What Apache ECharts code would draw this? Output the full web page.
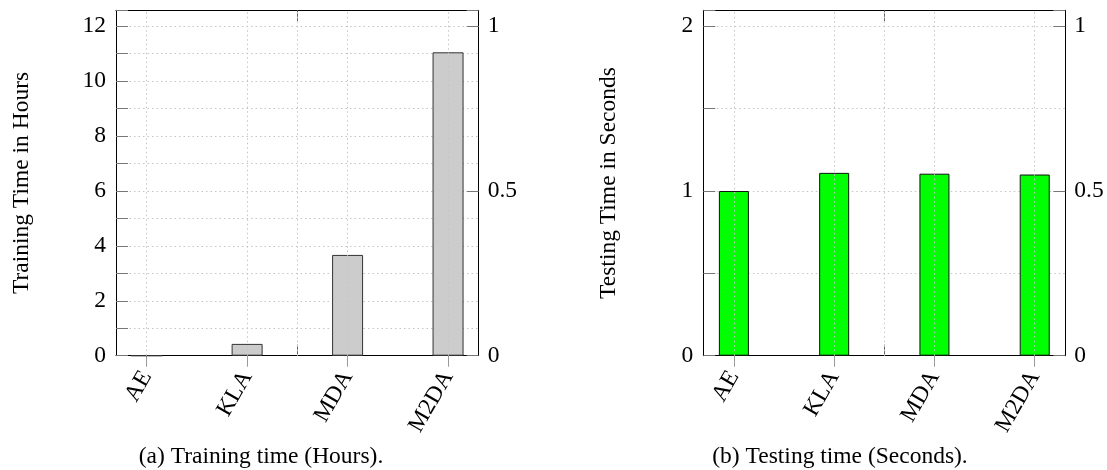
<!DOCTYPE html>
<html>
<head>
<meta charset="utf-8">
<script src="https://cdn.jsdelivr.net/npm/echarts@6/dist/echarts.min.js"></script>
<style>
html,body{margin:0;padding:0;background:#fff;}
#c{width:1107px;height:470px;}
</style>
</head>
<body>
<div id="c"></div>
<script>
// ---- data ----
const categories = ['AE', 'KLA', 'MDA', 'M2DA'];
const trainingHours = [0, 0.43, 3.67, 11.05];
const testingSeconds = [1.0, 1.11, 1.105, 1.10];
const trainingLeftMax = 12.58;
const testingLeftMax = 2.097;
const rightMaxRatio = 1.0483;
const verticalGridAt = [0, 1, 1.5, 2, 3];
const captionA = '(a) Training time (Hours).';
const captionB = '(b) Testing time (Seconds).';
const yNameA = 'Training Time in Hours';
const yNameB = 'Testing Time in Seconds';

const FONT = 'Liberation Serif';
const FS = 23.5;
const xMin = -0.305, xMax = 3.305;

function isInt(v){ return Math.abs(v - Math.round(v)) < 1e-9; }
function xAxesFor(g){
  return [
    { type:'value', gridIndex:g, position:'bottom', min:xMin, max:xMax,
      axisLine:{show:true, onZero:false, lineStyle:{color:'#000', width:1}},
      axisTick:{show:true, customValues:[0,1,2,3], inside:false, length:11, lineStyle:{color:'#999', width:1}},
      axisLabel:{show:true, customValues:[0,1,2,3], rotate:60, margin:17,
        formatter:function(v){ return isInt(v) ? categories[Math.round(v)] : ''; },
        fontFamily:FONT, fontSize:FS, color:'#000', padding:[0,0,0,0]},
      splitLine:{show:false} },
    { type:'value', gridIndex:g, position:'top', min:xMin, max:xMax,
      axisLine:{show:true, onZero:false, lineStyle:{color:'#000', width:1}},
      axisTick:{show:true, customValues:[1.5], inside:true, length:11, lineStyle:{color:'#666', width:1}},
      axisLabel:{show:false}, splitLine:{show:false} },
    { type:'value', gridIndex:g, position:'bottom', offset:0, min:xMin, max:xMax,
      axisLine:{show:false, onZero:false},
      axisTick:{show:true, customValues:[1.5], inside:true, length:11, lineStyle:{color:'#666', width:1}},
      axisLabel:{show:false}, splitLine:{show:false} }
  ];
}
function leftY(g, max, interval, labelFn, name){
  return { type:'value', gridIndex:g, position:'left', min:0, max:max, interval:interval,
    name:name, nameLocation:'middle', nameGap:82, nameRotate:90,
    nameTextStyle:{fontFamily:FONT, fontSize:FS, color:'#000'},
    axisLine:{show:true, onZero:false, lineStyle:{color:'#000', width:1}},
    axisTick:{show:true, inside:true, length:12, lineStyle:{color:'#777', width:1}},
    axisLabel:{show:true, margin:10, formatter:labelFn, fontFamily:FONT, fontSize:FS, color:'#000', showMaxLabel:true},
    splitLine:{show:true, lineStyle:{color:'#c4c4c4', type:[1.5,3], width:1}} };
}
function rightY(g){
  return { type:'value', gridIndex:g, position:'right', min:0, max:rightMaxRatio, interval:0.5,
    axisLine:{show:true, onZero:false, lineStyle:{color:'#000', width:1}},
    axisTick:{show:true, inside:true, length:12, lineStyle:{color:'#777', width:1}},
    axisLabel:{show:true, margin:9, fontFamily:FONT, fontSize:FS, color:'#000',
      formatter:function(v){ if (Math.abs(v)<1e-9) return '0'; if (Math.abs(v-0.5)<1e-9) return '0.5'; if (Math.abs(v-1)<1e-9) return '1'; return ''; }},
    splitLine:{show:false} };
}
function gridHelper(xi, yi){
  return { type:'line', xAxisIndex:xi, yAxisIndex:yi, data:[], z:1, silent:true,
    markLine:{ silent:true, symbol:'none', animation:false, label:{show:false},
      lineStyle:{color:'#c4c4c4', type:[1.5,3], width:1},
      data: verticalGridAt.map(function(x){ return {xAxis:x}; }) } };
}

const chart = echarts.init(document.getElementById('c'), null, {renderer:'canvas'});
chart.setOption({
  animation:false,
  backgroundColor:'#fff',
  grid:[
    {left:116, right:1107-478.7, top:10.3, bottom:470-355.7},
    {left:703.3, right:1107-1065.3, top:10.3, bottom:470-355.7}
  ],
  xAxis: xAxesFor(0).concat(xAxesFor(1)),
  yAxis:[
    leftY(0, trainingLeftMax, 1, function(v){ return (isInt(v) && Math.round(v)%2===0) ? String(Math.round(v)) : ''; }, yNameA),
    rightY(0),
    leftY(1, testingLeftMax, 0.5, function(v){ return isInt(v) ? String(Math.round(v)) : ''; }, yNameB),
    rightY(1)
  ],
  series:[
    gridHelper(0, 0),
    { type:'bar', xAxisIndex:0, yAxisIndex:0, z:3, barWidth:31,
      data: trainingHours.map(function(v,i){ return [i, v]; }),
      itemStyle:{color:'#cccccc', borderColor:'#333', borderWidth:1} },
    gridHelper(3, 2),
    { type:'bar', xAxisIndex:3, yAxisIndex:2, z:3, barWidth:30,
      data: testingSeconds.map(function(v,i){ return [i, v]; }),
      itemStyle:{color:'#00ff00', borderColor:'#111', borderWidth:1} }
  ],
  graphic:[
    { type:'text', x:261, y:457, style:{text:captionA, x:0, y:0, textAlign:'center', textVerticalAlign:'middle', font:FS+'px "'+FONT+'"', fill:'#000'} },
    { type:'text', x:840, y:457, style:{text:captionB, x:0, y:0, textAlign:'center', textVerticalAlign:'middle', font:FS+'px "'+FONT+'"', fill:'#000'} }
  ]
});
</script>
</body>
</html>
